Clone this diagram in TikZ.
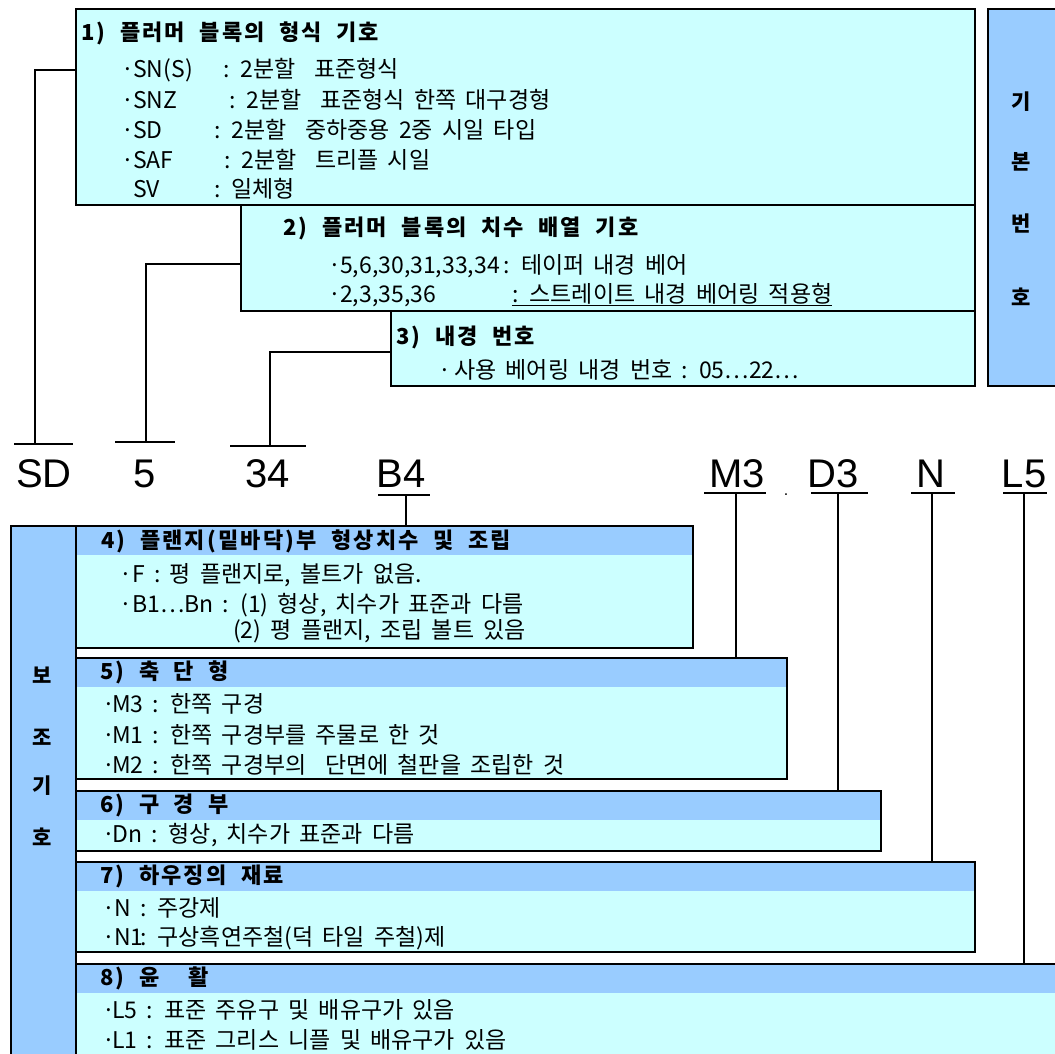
\documentclass[tikz,border=0pt]{standalone}
\usepackage{fontspec}
\usepackage{graphicx}
\setmainfont{Noto Sans CJK KR}[WordSpace=1.8]
\newfontfamily\ttlfont{Noto Sans CJK KR}[LetterSpace=10,WordSpace=2]
\newfontfamily\codefont{Liberation Sans}
\usetikzlibrary{positioning}

\definecolor{boxcyan}{HTML}{CCFFFF}
\definecolor{barblue}{HTML}{99CCFF}

\newcommand{\itm}[2]{\makebox[12pt][l]{·}\makebox[#1][l]{#2}}

\tikzset{
  cbox/.style={draw=black, line width=1.8pt, fill=boxcyan, anchor=north west, inner sep=0pt},
  hbox/.style={cbox, path picture={\fill[barblue] (path picture bounding box.north west) rectangle ([yshift=-29pt]path picture bounding box.north east);}},
  sidebar/.style={draw=black, line width=1.8pt, fill=barblue, anchor=north west, inner sep=0pt},
  sidech/.style={inner sep=0pt, font=\bfseries\fontsize{21}{24}\selectfont},
  ttl/.style={anchor=west, inner sep=0pt, font=\ttlfont\bfseries\fontsize{22}{25}\selectfont},
  txt/.style={anchor=west, inner sep=0pt, font=\fontsize{23}{27}\selectfont},
  code/.style={anchor=base, inner sep=0pt, font=\codefont\fontsize{40}{44}\selectfont},
  wire/.style={line width=1.2pt}
}

\begin{document}
\begin{tikzpicture}[x=1pt, y=-1pt]
\useasboundingbox (0,0) rectangle (1055,1053);

% basic number boxes
\node[cbox, minimum width=899pt, minimum height=196pt] (f1) at (75,8) {};
\node[cbox, minimum width=734pt, minimum height=106pt] (f2) at (240,204) {};
\node[cbox, minimum width=584pt, minimum height=75pt] (f3) at (390,310) {};
\node[sidebar, minimum width=90pt, minimum height=377pt] (rbar) at (987,8) {};

\node[ttl] (t1) at (81,33) {1) 플러머 블록의 형식 기호};
\node[txt] (l11) at (121,70) {\itm{90pt}{SN(S)}: 2분할~~표준형식};
\node[txt] (l12) at (121,100) {\itm{96pt}{SNZ}: 2분할~~표준형식 한쪽 대구경형};
\node[txt] (l13) at (121,130) {\itm{81pt}{SD}: 2분할~~중하중용 2중 시일 타입};
\node[txt] (l14) at (121,160) {\itm{91pt}{SAF}: 2분할~~트리플 시일};
\node[txt] (l15) at (121,189) {\makebox[12pt]{}\makebox[81pt][l]{SV}: 일체형};

\node[ttl] (t2) at (283,228) {2) 플러머 블록의 치수 배열 기호};
\node[txt] (l21) at (328,266) {\makebox[12pt][l]{·}5,6,30,31,33,34\,: 테이퍼 내경 베어};
\node[txt] (l22) at (328,295) {\itm{172pt}{2,3,35,36}\underline{: 스트레이트 내경 베어링 적용형}};

\node[ttl] (t3) at (396,337) {3) 내경 번호};
\node[txt] (l31) at (438,370) {\makebox[16pt][l]{·}사용 베어링 내경 번호 : 05…22…};

\node[sidech] (rb1) at (1021,102) {기};
\node[sidech] (rb2) at (1021,162) {본};
\node[sidech] (rb3) at (1021,223) {번};
\node[sidech] (rb4) at (1021,297) {호};

% code line
\node[code] (cSD) at (44,487) {SD};
\node[code] (c5) at (145,487) {5};
\node[code] (c34) at (268,487) {34};
\node[code] (cB4) at (401,487) {B4};
\node[code] (cM3) at (737,487) {M3};
\node[code, font=\codefont\fontsize{16}{18}\selectfont] (cdot) at (786,495) {.};
\node[code] (cD3) at (833,487) {D3};
\node[code] (cN) at (931,487) {N};
\node[code] (cL5) at (1024,487) {L5};

\coordinate (jSD) at (75,70);
\coordinate (bSD) at (35,444);
\coordinate (j5) at (240,264);
\coordinate (b5) at (146,442);
\coordinate (j34) at (390,352);
\coordinate (b34) at (270,446);
\draw[wire] (jSD) -| (bSD);
\draw[wire] ([xshift=-21pt]bSD) -- ([xshift=38pt]bSD);
\draw[wire] (j5) -| (b5);
\draw[wire] ([xshift=-31pt]b5) -- ([xshift=29pt]b5);
\draw[wire] (j34) -| (b34);
\draw[wire] ([xshift=-40pt]b34) -- ([xshift=36pt]b34);

% auxiliary boxes
\node[sidebar, minimum width=65pt, minimum height=540pt] (lbar) at (10,525) {};
\node[hbox, minimum width=617pt, minimum height=122pt] (f4) at (75,525) {};
\node[hbox, minimum width=711pt, minimum height=121pt] (f5) at (75,657) {};
\node[hbox, minimum width=805pt, minimum height=60pt] (f6) at (75,790) {};
\node[hbox, minimum width=899pt, minimum height=90pt] (f7) at (75,861) {};
\node[hbox, minimum width=1000pt, minimum height=100pt] (f8) at (75,963) {};

\node[sidech] (lb1) at (42,675) {보};
\node[sidech] (lb2) at (42,737) {조};
\node[sidech] (lb3) at (42,786) {기};
\node[sidech] (lb4) at (42,837) {호};

\node[ttl] (t4) at (101,541) {4) 플랜지(밑바닥)부 형상치수 및 조립};
\node[txt] (l41) at (119,575) {\makebox[13pt][l]{·}F : 평 플랜지로, 볼트가 없음.};
\node[txt] (l42) at (119,605) {\makebox[13pt][l]{·}B1…Bn : (1) 형상, 치수가 표준과 다름};
\node[txt] (l43) at (233,631) {(2) 평 플랜지, 조립 볼트 있음};

\node[ttl] (t5) at (100,672) {5) 축 단 형};
\node[txt] (l51) at (102,704) {\makebox[10pt][l]{·}M3 : 한쪽 구경};
\node[txt] (l52) at (102,735) {\makebox[10pt][l]{·}M1 : 한쪽 구경부를 주물로 한 것};
\node[txt] (l53) at (102,765) {\makebox[10pt][l]{·}M2 : 한쪽 구경부의~~단면에 철판을 조립한 것};

\node[ttl] (t6) at (100,805) {6) 구 경 부};
\node[txt] (l61) at (102,835) {\makebox[10pt][l]{·}Dn : 형상, 치수가 표준과 다름};

\node[ttl] (t7) at (100,876) {7) 하우징의 재료};
\node[txt] (l71) at (102,908) {\itm{26pt}{N}: 주강제};
\node[txt] (l72) at (102,938) {\itm{26pt}{N1}: 구상흑연주철(덕 타일 주철)제};

\node[ttl] (t8) at (100,978) {8) 윤~~활};
\node[txt] (l81) at (102,1010) {\makebox[10pt][l]{·}L5 : 표준 주유구 및 배유구가 있음};
\node[txt] (l82) at (102,1040) {\makebox[10pt][l]{·}L1 : 표준 그리스 니플 및 배유구가 있음};

% code bars to boxes
\coordinate (bB4) at (406,495);
\coordinate (bM3) at (736,493);
\coordinate (bD3) at (838,493);
\coordinate (bN) at (932,493);
\coordinate (bL5) at (1024,493);
\draw[wire] ([xshift=-28pt]bB4) -- ([xshift=24pt]bB4);
\draw[wire] ([xshift=-32pt]bM3) -- ([xshift=30pt]bM3);
\draw[wire] ([xshift=-27pt]bD3) -- ([xshift=30pt]bD3);
\draw[wire] ([xshift=-21pt]bN) -- ([xshift=23pt]bN);
\draw[wire] ([xshift=-21pt]bL5) -- ([xshift=23pt]bL5);
\draw[wire] (bB4) -- (bB4 |- f4.north);
\draw[wire] (bM3) -- (bM3 |- f5.north);
\draw[wire] (bD3) -- (bD3 |- f6.north);
\draw[wire] (bN) -- (bN |- f7.north);
\draw[wire] (bL5) -- (bL5 |- f8.north);
\end{tikzpicture}
\end{document}
